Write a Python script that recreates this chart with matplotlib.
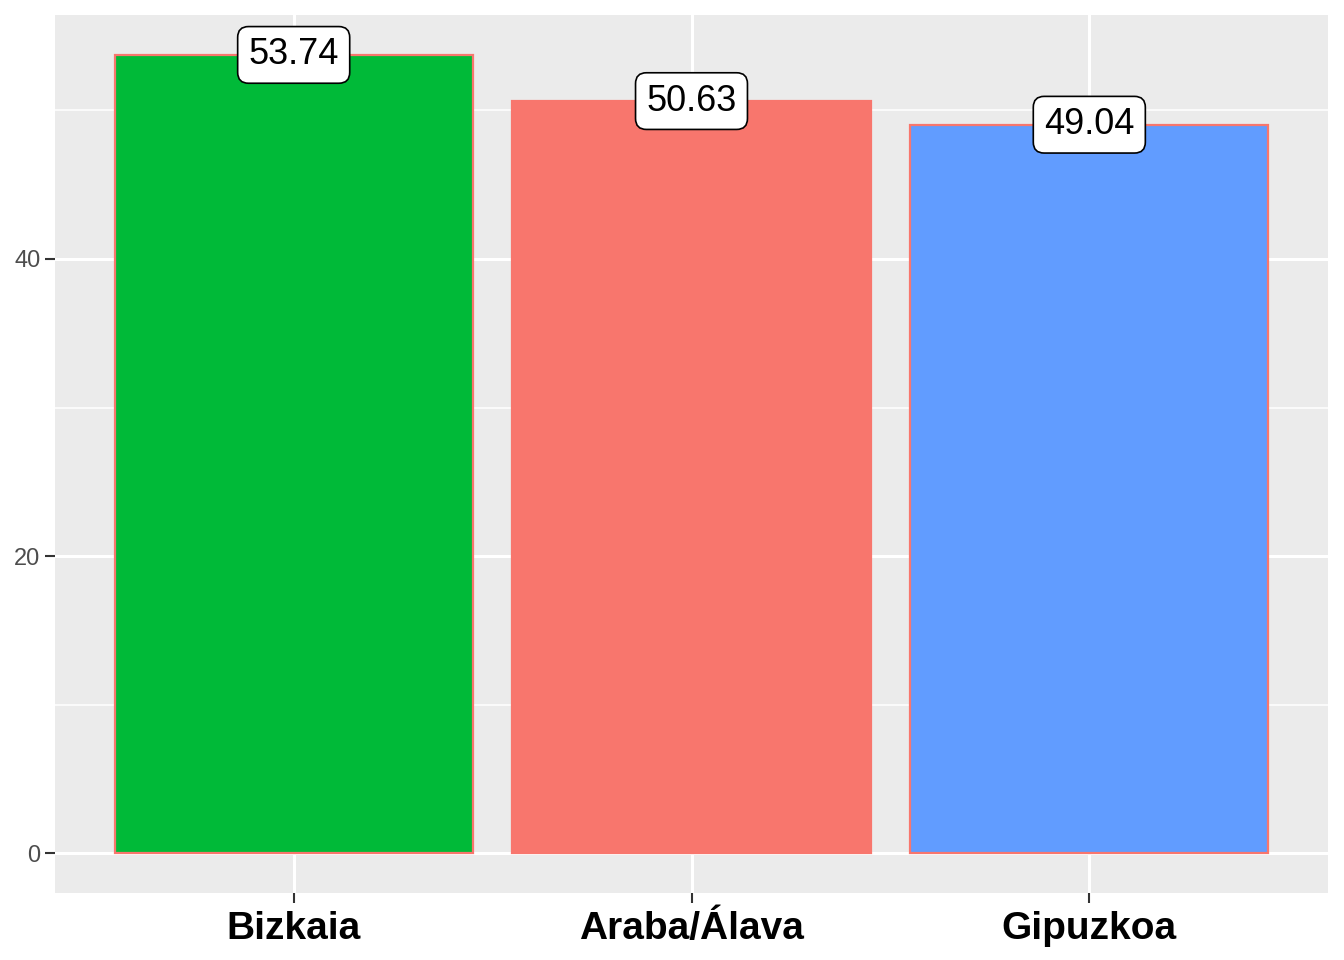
import matplotlib.pyplot as plt
import numpy as np
from matplotlib.ticker import MultipleLocator

# data
regions = ['Bizkaia', 'Araba/Álava', 'Gipuzkoa']
values = [53.74, 50.63, 49.04]
fills = ['#00BA38', '#F8766D', '#619CFF']

plt.rcParams['font.family'] = ['Liberation Sans', 'DejaVu Sans']

fig = plt.figure(figsize=(13.44, 9.6), dpi=100)
ax = fig.add_axes([55/1344, 1-893/960, (1328-55)/1344, (893-15)/960])
ax.set_facecolor('#EBEBEB')

x = np.arange(1, len(regions) + 1)
ax.bar(x, values, width=0.9, color=fills, edgecolor='#F8766D', linewidth=1.6, zorder=3)

for xi, v in zip(x, values):
    ax.text(xi, v, f'{v:.2f}', ha='center', va='center', fontsize=26, zorder=4,
            bbox=dict(boxstyle='round,pad=0.3,rounding_size=0.3', fc='white', ec='black', lw=1.2))

ax.set_xlim(0.4, 3.6)
ax.set_ylim(-0.05 * max(values), max(values) * 1.05)
ax.set_xticks(x)
ax.set_xticklabels(regions, fontsize=28, fontweight='bold', color='black')
ax.yaxis.set_major_locator(MultipleLocator(20))
ax.yaxis.set_minor_locator(MultipleLocator(10))
ax.tick_params(axis='y', labelsize=17, labelcolor='#4D4D4D', color='#333333', length=7, width=1.5)
ax.tick_params(axis='y', which='minor', length=0)
ax.tick_params(axis='x', color='#333333', length=7, width=1.5, pad=6)

ax.grid(which='major', color='white', linewidth=2.2, zorder=0)
ax.grid(which='minor', axis='y', color='white', linewidth=1.1, zorder=0)
ax.set_axisbelow(True)
for s in ax.spines.values():
    s.set_visible(False)

fig.savefig('out.png', dpi=100)
